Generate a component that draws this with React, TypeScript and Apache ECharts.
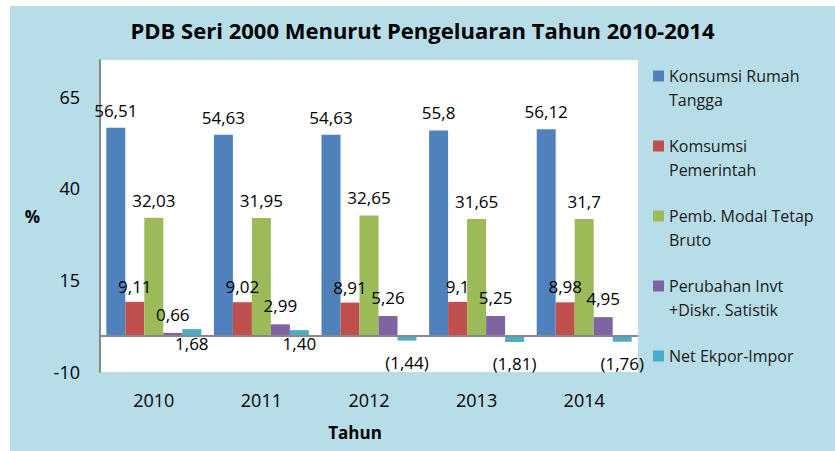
import React, { useEffect, useRef } from "react";
import * as echarts from "echarts";

const categories = ["2010", "2011", "2012", "2013", "2014"];
const konsumsiRumahTangga = [56.51, 54.63, 54.63, 55.8, 56.12];
const konsumsiPemerintah = [9.11, 9.02, 8.91, 9.1, 8.98];
const pembModalTetapBruto = [32.03, 31.95, 32.65, 31.65, 31.7];
const perubahanInvt = [0.66, 2.99, 5.26, 5.25, 4.95];
const netEksporImpor = [1.68, 1.4, -1.44, -1.81, -1.76];
const yTicks = [-10, 15, 40, 65];

const seriesNames = [
  "Konsumsi Rumah\nTangga",
  "Komsumsi\nPemerintah",
  "Pemb. Modal Tetap\nBruto",
  "Perubahan Invt\n+Diskr. Satistik",
  "Net Ekpor-Impor",
];
const colors = ["#4f81bd", "#c0504d", "#9bbb59", "#8064a2", "#4bacc6"];
const FONT = "Open Sans";

const fmt = (v: number, fixed: boolean) => {
  const s = fixed ? Math.abs(v).toFixed(2) : String(Math.abs(v));
  const t = s.replace(".", ",");
  return v < 0 ? "(" + t + ")" : t;
};

export default function App() {
  const ref = useRef<HTMLDivElement>(null);
  useEffect(() => {
    if (!ref.current) return;
    const chart = echarts.init(ref.current, undefined, { renderer: "svg" });
    const labelBase = { fontFamily: FONT, fontSize: 17, color: "#000" };
    const mk = (i: number, data: number[], dist: number, extra: any = {}) => ({
      name: seriesNames[i],
      type: "bar",
      barWidth: 19,
      barGap: "0%",
      itemStyle: { color: colors[i] },
      data,
      label: {
        show: true,
        position: "top",
        distance: dist,
        ...labelBase,
        formatter: (p: any) => fmt(p.value, false),
      },
      ...extra,
    });
    const series: any[] = [
      mk(0, konsumsiRumahTangga, 9, {
        markLine: {
          silent: true,
          symbol: "none",
          label: { show: false },
          lineStyle: { color: "#888", width: 2, type: "solid" },
          data: [{ yAxis: 0 }],
        },
      }),
      mk(1, konsumsiPemerintah, 7),
      mk(2, pembModalTetapBruto, 9),
      mk(3, perubahanInvt, 10),
      {
        name: seriesNames[4],
        type: "bar",
        barWidth: 19,
        barGap: "0%",
        itemStyle: { color: colors[4] },
        data: netEksporImpor.map((v) => ({
          value: v,
          label: { position: "bottom", distance: v < 0 ? 13 : 0 },
        })),
        label: {
          show: true,
          position: "bottom",
          ...labelBase,
          formatter: (p: any) => fmt(p.value, true),
        },
      },
    ];
    chart.setOption({
      animation: false,
      backgroundColor: "#b7dde8",
      color: colors,
      title: {
        text: "PDB Seri 2000 Menurut Pengeluaran Tahun 2010-2014",
        left: "center",
        top: 8,
        textStyle: { fontFamily: FONT, fontSize: 22, fontWeight: "bold", color: "#000" },
      },
      legend: {
        orient: "vertical",
        left: 643,
        top: 34,
        padding: 0,
        itemWidth: 11,
        itemHeight: 11,
        itemGap: -2,
        icon: "rect",
        data: seriesNames,
        formatter: (name: string) =>
          name.indexOf("\n") >= 0 ? "\n" + name : "\n" + name + "\n",
        textStyle: { fontFamily: FONT, fontSize: 16, lineHeight: 24, color: "#1a1a1a" },
      },
      grid: {
        left: 90,
        top: 54,
        right: 197,
        bottom: 79,
        show: true,
        backgroundColor: "#ffffff",
        borderWidth: 0,
      },
      xAxis: {
        type: "category",
        data: categories,
        name: "Tahun",
        nameLocation: "middle",
        nameGap: 52,
        nameTextStyle: {
          fontFamily: FONT,
          fontSize: 17,
          fontWeight: "bold",
          color: "#000",
          padding: [0, 28, 0, 0],
        },
        axisLine: { show: false, onZero: false },
        axisTick: { show: false },
        axisLabel: { margin: 19, fontFamily: FONT, fontSize: 18, color: "#000" },
      },
      yAxis: {
        type: "value",
        min: -10,
        max: 75,
        interval: 25,
        name: "%",
        nameLocation: "middle",
        nameRotate: 0,
        nameGap: 60,
        nameTextStyle: { fontFamily: FONT, fontSize: 17, fontWeight: "bold", color: "#000" },
        axisLine: { show: true, lineStyle: { color: "#888", width: 2 } },
        axisTick: { show: false },
        splitLine: { show: false },
        axisLabel: {
          margin: 20,
          fontFamily: FONT,
          fontSize: 18,
          color: "#000",
          showMaxLabel: false,
          formatter: (v: number) => (yTicks.indexOf(v) >= 0 ? String(v) : ""),
        },
      },
      series,
    });
    return () => chart.dispose();
  }, []);
  return (
    <div
      ref={ref}
      style={{ position: "fixed", left: 10, top: 6, width: 825, height: 445 }}
    />
  );
}
